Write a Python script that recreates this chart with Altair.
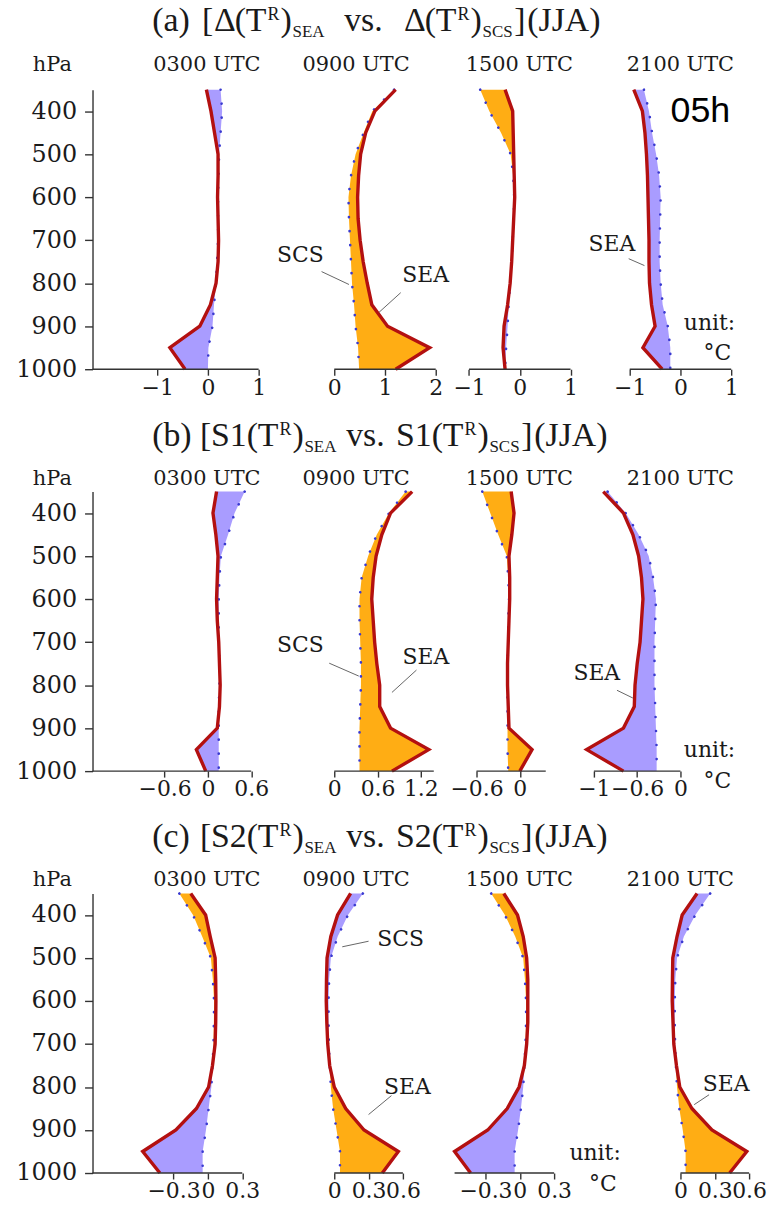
import altair as alt
import pandas as pd

# ---------------- data ----------------
P = [350, 400, 450, 500, 550, 600, 650, 700, 750, 800, 850, 900, 950, 1000]

# (a) Delta
A_0300_SEA = [-0.03, 0.06, 0.13, 0.20, 0.20, 0.19, 0.20, 0.21, 0.20, 0.16, 0.05, -0.16, -0.75, -0.45]
A_0300_SCS = [0.25, 0.28, 0.25, 0.22, 0.21, 0.20, 0.20, 0.20, 0.18, 0.16, 0.12, 0.09, 0.01, 0.00]
A_0900_SEA = [1.21, 0.80, 0.62, 0.52, 0.48, 0.46, 0.47, 0.51, 0.57, 0.65, 0.74, 1.05, 1.88, 1.21]
A_0900_SCS = [1.18, 0.75, 0.58, 0.42, 0.33, 0.28, 0.29, 0.31, 0.33, 0.35, 0.39, 0.42, 0.47, 0.49]
A_1500_SEA = [-0.29, -0.14, -0.13, -0.12, -0.11, -0.10, -0.12, -0.14, -0.16, -0.19, -0.24, -0.31, -0.33, -0.29]
A_1500_SCS = [-0.78, -0.60, -0.37, -0.18, -0.13, -0.11, -0.12, -0.14, -0.16, -0.19, -0.22, -0.24, -0.27, -0.29]
A_2100_SEA = [-0.92, -0.75, -0.70, -0.67, -0.65, -0.64, -0.63, -0.62, -0.62, -0.61, -0.57, -0.50, -0.74, -0.36]
A_2100_SCS = [-0.72, -0.62, -0.56, -0.48, -0.42, -0.39, -0.40, -0.41, -0.41, -0.39, -0.35, -0.25, -0.20, -0.20]

# (b) S1
B_0300_SEA = [0.12, 0.07, 0.11, 0.14, 0.13, 0.12, 0.13, 0.15, 0.16, 0.17, 0.16, 0.13, -0.16, -0.03]
B_0300_SCS = [0.51, 0.37, 0.28, 0.18, 0.16, 0.15, 0.15, 0.15, 0.16, 0.16, 0.15, 0.15, 0.15, 0.15]
B_0900_SEA = [1.08, 0.78, 0.66, 0.58, 0.54, 0.52, 0.54, 0.56, 0.59, 0.63, 0.63, 0.78, 1.31, 0.80]
B_0900_SCS = [0.99, 0.76, 0.59, 0.47, 0.38, 0.35, 0.35, 0.36, 0.37, 0.37, 0.36, 0.35, 0.35, 0.35]
B_1500_SEA = [-0.12, -0.08, -0.11, -0.15, -0.14, -0.14, -0.15, -0.16, -0.17, -0.17, -0.16, -0.15, 0.17, 0.00]
B_1500_SCS = [-0.52, -0.41, -0.30, -0.18, -0.16, -0.15, -0.16, -0.16, -0.17, -0.17, -0.17, -0.17, -0.17, -0.16]
B_2100_SEA = [-1.07, -0.79, -0.66, -0.58, -0.54, -0.52, -0.54, -0.56, -0.60, -0.63, -0.64, -0.79, -1.30, -0.79]
B_2100_SCS = [-1.01, -0.76, -0.58, -0.44, -0.38, -0.34, -0.35, -0.36, -0.36, -0.36, -0.35, -0.34, -0.33, -0.33]

# (c) S2
C_0300_SEA = [-0.15, -0.02, 0.02, 0.063, 0.068, 0.07, 0.068, 0.063, 0.04, 0.006, -0.10, -0.28, -0.57, -0.42]
C_0300_SCS = [-0.25, -0.13, -0.05, 0.026, 0.043, 0.054, 0.052, 0.049, 0.04, 0.03, 0.006, -0.017, -0.046, -0.046]
C_0900_SEA = [0.143, 0.029, -0.03, -0.063, -0.068, -0.07, -0.065, -0.057, -0.04, 0.0, 0.10, 0.26, 0.56, 0.42]
C_0900_SCS = [0.25, 0.12, 0.03, -0.03, -0.045, -0.05, -0.05, -0.047, -0.04, -0.03, -0.01, 0.02, 0.05, 0.05]
C_1500_SEA = [-0.14, -0.02, 0.03, 0.06, 0.07, 0.07, 0.07, 0.06, 0.04, -0.006, -0.11, -0.28, -0.57, -0.43]
C_1500_SCS = [-0.25, -0.13, -0.04, 0.03, 0.045, 0.055, 0.055, 0.05, 0.04, 0.03, 0.01, -0.015, -0.045, -0.045]
C_2100_SEA = [0.145, 0.015, -0.03, -0.067, -0.07, -0.072, -0.065, -0.058, -0.035, -0.006, 0.10, 0.275, 0.58, 0.43]
C_2100_SCS = [0.26, 0.13, 0.03, -0.03, -0.045, -0.05, -0.05, -0.047, -0.04, -0.03, -0.01, 0.02, 0.045, 0.045]

UTC = ["0300 UTC", "0900 UTC", "1500 UTC", "2100 UTC"]
Y_TICKS = [400, 500, 600, 700, 800, 900, 1000]

X_TICKS = {
    "a": [[-1, 0, 1], [0, 1, 2], [-1, 0, 1], [-1, 0, 1]],
    "b": [[-0.6, 0, 0.6], [0, 0.6, 1.2], [-0.6, 0], [-1.2, -0.6, 0]],
    "c": [[-0.3, 0, 0.3], [0, 0.3, 0.6], [-0.3, 0, 0.3], [0, 0.3, 0.6]],
}
# x-axis line extents (None = starts at the y axis)
X_EXT = {
    "a": [[None, 1], [0, 2], [-1, 1], [-1, 1]],
    "b": [[None, 0.6], [0, 1.38], [-0.6, 0.36], [-1.2, 0]],
    "c": [[None, 0.3], [0, 0.6], [-0.57, 0.3], [0, 0.6]],
}

# annotation labels (x, p, text) and leader lines (x1, p1, x2, p2), in data units
LABELS = {
    ("a", 1): [(-0.67, 734, "SCS"), (1.80, 780, "SEA")],
    ("a", 3): [(-1.35, 709, "SEA")],
    ("b", 1): [(-0.47, 707, "SCS"), (1.27, 735, "SEA")],
    ("b", 3): [(-1.16, 772, "SEA")],
    ("c", 1): [(0.58, 456, "SCS"), (0.64, 800, "SEA")],
    ("c", 3): [(0.40, 793, "SEA")],
}
LEADERS = {
    ("a", 1): [(-0.25, 773, 0.29, 803), (1.31, 822, 0.88, 868)],
    ("a", 3): [(-1.02, 743, -0.71, 759)],
    ("b", 1): [(-0.07, 749, 0.34, 779), (1.14, 765, 0.80, 817)],
    ("b", 3): [(-0.88, 812, -0.66, 830)],
    ("c", 1): [(0.30, 461, 0.07, 474), (0.50, 820, 0.30, 864)],
    ("c", 3): [(0.25, 818, 0.12, 841)],
}

# ---------------- layout / style ----------------
ORANGE = "#FFAD14"
LAVENDER = "#A99CFF"
RED = "#B31010"
BLUE = "#3A3AD0"
AXC = "#333333"
TXT = "#1a1a1a"
SERIF = "DejaVu Serif"
TITLE_FONT = "Liberation Serif"

SLOTS = [(92, 300), (300, 450), (450, 590), (590, 760)]
ZERO = [208, 335, 521.5, 683]
ROW = {
    "a": dict(top=86, k=51.0, title_base=27, lab_base=67),
    "b": dict(top=490, k=72.5, title_base=444, lab_base=483),
    "c": dict(top=894, k=115.0, title_base=847, lab_base=886),
}
H = 281

TITLES = {
    "a": [("(a)", 152, "N"), ("[", 202, "N"), ("Δ", 214, "N"), ("(", 235, "N"), ("T", 246, "N"),
          ("R", 268, "SUP"), (")", 281, "N"), ("SEA", 293, "SUB"), ("vs.", 345, "N"),
          ("Δ", 405, "N"), ("(", 426, "N"), ("T", 437, "N"), ("R", 459, "SUP"), (")", 472, "N"),
          ("SCS", 484, "SUB"), ("]", 516, "N"), ("(JJA)", 529, "N")],
    "b": [("(b)", 152, "N"), ("[", 200, "N"), ("S1", 211, "N"), ("(", 247, "N"), ("T", 258, "N"),
          ("R", 280, "SUP"), (")", 293, "N"), ("SEA", 305, "SUB"), ("vs.", 347, "N"),
          ("S1", 397, "N"), ("(", 433, "N"), ("T", 444, "N"), ("R", 466, "SUP"), (")", 479, "N"),
          ("SCS", 491, "SUB"), ("]", 523, "N"), ("(JJA)", 536, "N")],
    "c": [("(c)", 152, "N"), ("[", 200, "N"), ("S2", 211, "N"), ("(", 247, "N"), ("T", 258, "N"),
          ("R", 280, "SUP"), (")", 293, "N"), ("SEA", 305, "SUB"), ("vs.", 347, "N"),
          ("S2", 397, "N"), ("(", 433, "N"), ("T", 444, "N"), ("R", 466, "SUP"), (")", 479, "N"),
          ("SCS", 491, "SUB"), ("]", 523, "N"), ("(JJA)", 536, "N")],
}
UTC_X = [207, 357, 521, 683]
UNIT = {"a": (738, 328, 734, 358), "b": (738, 757, 734, 788), "c": (623, 1162, 619, 1193)}

DATA = {
    "a": [(A_0300_SEA, A_0300_SCS), (A_0900_SEA, A_0900_SCS), (A_1500_SEA, A_1500_SCS), (A_2100_SEA, A_2100_SCS)],
    "b": [(B_0300_SEA, B_0300_SCS), (B_0900_SEA, B_0900_SCS), (B_1500_SEA, B_1500_SCS), (B_2100_SEA, B_2100_SCS)],
    "c": [(C_0300_SEA, C_0300_SCS), (C_0900_SEA, C_0900_SCS), (C_1500_SEA, C_1500_SCS), (C_2100_SEA, C_2100_SCS)],
}

DUMMY = pd.DataFrame({"d": [0]})


def vtext(text, xa, ya, top, size, font=SERIF, align="left", color=TXT):
    return alt.Chart(DUMMY).mark_text(
        text=text, font=font, fontSize=size, align=align, baseline="alphabetic", color=color
    ).encode(x=alt.value(xa - SLOTS[0][0]), y=alt.value(ya - top))


def panel(row, i):
    cfg = ROW[row]
    k, zero = cfg["k"], ZERO[i]
    sl, sr = SLOTS[i]
    dom = [(sl - zero) / k, (sr - zero) / k]
    sea, scs = DATA[row][i]
    df = pd.DataFrame({"p": P, "sea": sea, "scs": scs})

    xs = alt.Scale(domain=dom, nice=False, zero=False)
    ys = alt.Scale(domain=[350, 1000], reverse=True, nice=False, zero=False)
    xaxis = alt.Axis(values=X_TICKS[row][i], format="~g", domain=False, grid=False, tickSize=6,
                     labelPadding=2, title=None, labelOverlap=False, labelFlush=False,
                     labelFont=SERIF, labelFontSize=22, labelColor=TXT, tickColor=AXC, tickWidth=1.4)
    if i == 0:
        yaxis = alt.Axis(values=Y_TICKS, format="d", grid=False, tickSize=8, labelPadding=8, title=None,
                         labelFlush=False, labelFont=SERIF, labelFontSize=24, labelColor=TXT,
                         domainColor=AXC, domainWidth=1.4, tickColor=AXC, tickWidth=1.4)
    else:
        yaxis = None

    def X(f):
        return alt.X(f, type="quantitative", scale=xs, axis=xaxis)

    Y = alt.Y("p:Q", scale=ys, axis=yaxis)

    base = alt.Chart(df).transform_calculate(
        hi="max(datum.sea, datum.scs)", lo="min(datum.sea, datum.scs)"
    )
    orange = base.mark_area(orient="horizontal", color=ORANGE, opacity=1).encode(
        x=X("scs"), x2=alt.X2("hi:Q"), y=Y)
    lav = base.mark_area(orient="horizontal", color=LAVENDER, opacity=1).encode(
        x=X("lo"), x2=alt.X2("scs:Q"), y=Y)
    blue = base.mark_line(color=BLUE, strokeWidth=2.6, strokeDash=[0.1, 14], strokeCap="round").encode(
        x=X("scs"), y=Y, order="p:Q")
    red = base.mark_line(color=RED, strokeWidth=3.4, strokeJoin="miter").encode(
        x=X("sea"), y=Y, order="p:Q")

    e0, e1 = X_EXT[row][i]
    if e0 is None:
        e0 = dom[0]
    axline = alt.Chart(pd.DataFrame({"x0": [e0], "x1": [e1], "p": [1000]})).mark_rule(
        color=AXC, strokeWidth=1.4).encode(x=X("x0"), x2=alt.X2("x1:Q"), y=Y)

    layers = [orange, lav, blue, red, axline]

    if (row, i) in LEADERS:
        ld = pd.DataFrame(LEADERS[(row, i)], columns=["x", "p", "x2", "p2"])
        layers.append(alt.Chart(ld).mark_rule(color="#555555", strokeWidth=0.9).encode(
            x=X("x"), x2=alt.X2("x2:Q"), y=Y, y2=alt.Y2("p2:Q")))
    if (row, i) in LABELS:
        lb = pd.DataFrame(LABELS[(row, i)], columns=["x", "p", "t"])
        layers.append(alt.Chart(lb).mark_text(font=SERIF, fontSize=22, color=TXT,
                                              align="center", baseline="middle").encode(
            x=X("x"), y=Y, text="t:N"))

    if i == 0:
        top = cfg["top"]
        if row == "a":
            layers.append(alt.Chart(DUMMY).mark_point(size=1, opacity=0).encode(
                x=alt.value(-SLOTS[0][0]), y=alt.value(-top)))
        tb = cfg["title_base"]
        for txt, xa, kind in TITLES[row]:
            if kind == "N":
                layers.append(vtext(txt, xa, tb, top, 34, font=TITLE_FONT))
            elif kind == "SUP":
                layers.append(vtext(txt, xa, tb - 11, top, 18, font=TITLE_FONT))
            else:
                layers.append(vtext(txt, xa, tb + 6, top, 17, font=TITLE_FONT))
        lbase = cfg["lab_base"]
        layers.append(vtext("hPa", 32, lbase, top, 21))
        for xc, lab in zip(UTC_X, UTC):
            layers.append(vtext(lab, xc, lbase, top, 21, align="center"))
        ux, uy, cx, cy = UNIT[row]
        layers.append(vtext("unit:", ux, uy, top, 22, align="right"))
        layers.append(vtext("°C", cx, cy, top, 22, align="right"))
        if row == "a":
            layers.append(vtext("05h", 673, 118, top, 36, font="Liberation Sans", color="#000000"))

    return alt.layer(*layers).properties(width=sr - sl, height=H)


panels = [panel(r, i) for r in ["a", "b", "c"] for i in range(4)]

chart = alt.ConcatChart(
    concat=panels, columns=4, bounds="flush",
    spacing=alt.RowColnumber(row=123, column=0),
).properties(padding=0, background="white").configure_view(stroke=None)

chart.save("out.html", embed_options={"renderer": "svg", "actions": False})
